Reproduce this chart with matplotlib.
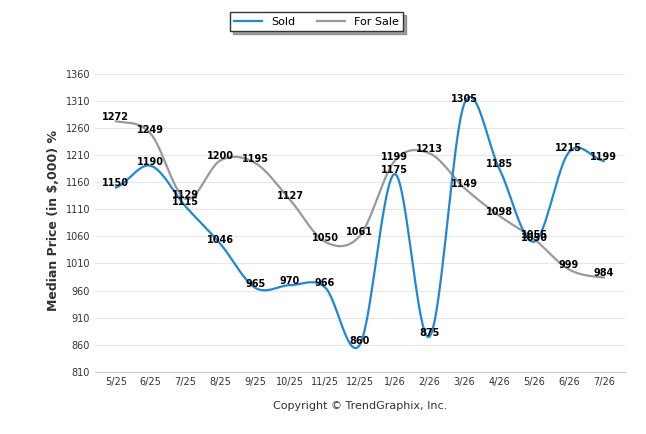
import matplotlib
matplotlib.use("Agg")
import matplotlib.pyplot as plt
import numpy as np

months = ["5/25", "6/25", "7/25", "8/25", "9/25", "10/25", "11/25", "12/25",
          "1/26", "2/26", "3/26", "4/26", "5/26", "6/26", "7/26"]
sold = [1150, 1190, 1115, 1046, 965, 970, 966, 860, 1175, 875, 1305, 1185, 1050, 1215, 1199]
for_sale = [1272, 1249, 1129, 1200, 1195, 1127, 1050, 1061, 1199, 1213, 1149, 1098, 1055, 999, 984]


def smooth(y, n=20):
    # Catmull-Rom spline through the points
    y = np.asarray(y, float)
    p = np.concatenate([[y[0]], y, [y[-1]]])
    xs, ys = [], []
    for i in range(len(y) - 1):
        p0, p1, p2, p3 = p[i], p[i + 1], p[i + 2], p[i + 3]
        t = np.linspace(0, 1, n, endpoint=False)
        v = 0.5 * (2 * p1 + (-p0 + p2) * t + (2 * p0 - 5 * p1 + 4 * p2 - p3) * t ** 2
                   + (-p0 + 3 * p1 - 3 * p2 + p3) * t ** 3)
        xs.append(i + t)
        ys.append(v)
    xs.append([len(y) - 1])
    ys.append([y[-1]])
    return np.concatenate(xs), np.concatenate(ys)


fig = plt.figure(figsize=(6.46, 4.34), dpi=100)
ax = fig.add_axes([0.147, 0.143, 0.82, 0.70])
x = np.arange(len(months))

sx, sy = smooth(for_sale)
ax.plot(sx, sy, color="#999999", lw=1.6, label="For Sale")
sx, sy = smooth(sold)
ax.plot(sx, sy, color="#1e88d6", lw=1.6, label="Sold")

for i in x:
    ax.annotate(str(for_sale[i]), (i, for_sale[i]), xytext=(0, 3), textcoords="offset points",
                ha="center", va="center", fontsize=7, fontweight="bold")
    ax.annotate(str(sold[i]), (i, sold[i]), xytext=(0, 3), textcoords="offset points",
                ha="center", va="center", fontsize=7, fontweight="bold")

ax.set_xlim(-0.6, len(months) - 0.4)
ax.set_ylim(810, 1370)
ax.set_yticks(range(810, 1361, 50))
ax.set_xticks(x)
ax.set_xticklabels(months)
ax.tick_params(labelsize=7, colors="#333333", length=0)
ax.grid(axis="y", color="#e6e6e6", lw=0.8)
for s in ["top", "right", "left"]:
    ax.spines[s].set_visible(False)
ax.spines["bottom"].set_color("#cccccc")
ax.set_ylabel("Median Price (in $,000) %", fontsize=9, fontweight="bold", color="#333333")
ax.set_xlabel("Copyright \u00a9 TrendGraphix, Inc.", fontsize=8, color="#333333", labelpad=10)

h, l = ax.get_legend_handles_labels()
fig.legend(h[::-1], l[::-1], loc="upper center", bbox_to_anchor=(0.49, 0.985), ncol=2,
           fontsize=8, fancybox=False, shadow=True, edgecolor="#333333", handlelength=2.5)

fig.savefig("out.png", dpi=100)
